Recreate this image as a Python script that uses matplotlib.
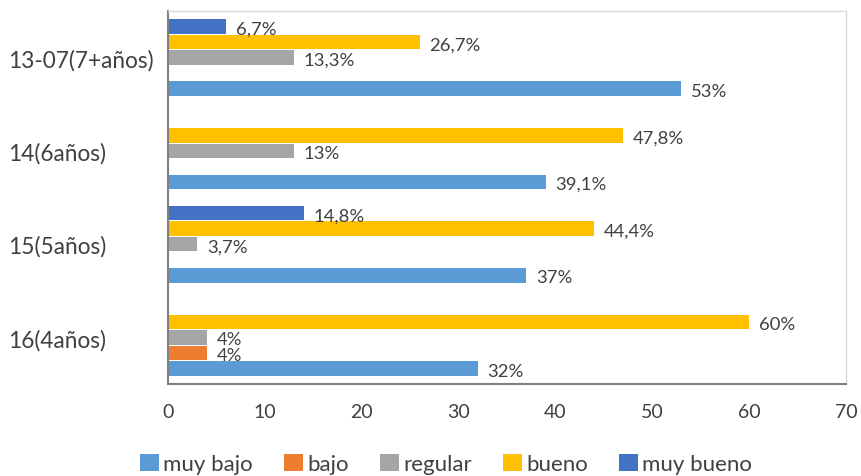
import matplotlib.pyplot as plt
import numpy as np

plt.rcParams['font.family'] = ['Lato', 'DejaVu Sans']

# categories from bottom to top
categorias = ["16(4años)", "15(5años)", "14(6años)", "13-07(7+años)"]
series = ["muy bajo", "bajo", "regular", "bueno", "muy bueno"]
colores = ["#5B9BD5", "#ED7D31", "#A5A5A5", "#FFC000", "#4472C4"]

# bar lengths as drawn in the picture
muy_bajo = [32, 37, 39, 53]
bajo = [4, 0, 0, 0]
regular = [4, 3, 13, 13]
bueno = [60, 44, 47, 26]
muy_bueno = [0, 14, 0, 6]

# data labels as printed next to the bars
et_muy_bajo = ["32%", "37%", "39,1%", "53%"]
et_bajo = ["4%", "", "", ""]
et_regular = ["4%", "3,7%", "13%", "13,3%"]
et_bueno = ["60%", "44,4%", "47,8%", "26,7%"]
et_muy_bueno = ["", "14,8%", "", "6,7%"]

valores = [muy_bajo, bajo, regular, bueno, muy_bueno]
etiquetas = [et_muy_bajo, et_bajo, et_regular, et_bueno, et_muy_bueno]

fig = plt.figure(figsize=(8.61, 4.77), dpi=100)
ax = fig.add_axes([168 / 861, 92 / 477, 678 / 861, 373 / 477])

y = np.arange(len(categorias))
h = 1 / 6
texto = "#404040"

for i, (nombre, vals, ets, col) in enumerate(zip(series, valores, etiquetas, colores)):
    pos = y + (i - 2) * h
    ax.barh(pos, vals, height=h * 0.94, color=col, label=nombre)
    for p, v, et in zip(pos, vals, ets):
        if not et:
            continue
        ax.annotate(et, (v, p), xytext=(7, -1.5), textcoords="offset points",
                    va="center", ha="left", fontsize=13.3, color=texto)

ax.set_xlim(0, 70)
ax.set_ylim(-0.5, 3.5)
ax.set_xticks(range(0, 71, 10))
ax.set_yticks(y)
ax.set_yticklabels(categorias, ha="left")
ax.tick_params(length=0, labelcolor=texto)
ax.tick_params(axis="x", pad=14, labelsize=14)
# pad in points: labels start ~8px from the left edge of the figure
ax.tick_params(axis="y", pad=(168 - 8) * 0.72, labelsize=16.3)

for lado in ["top", "right"]:
    ax.spines[lado].set_color("#D9D9D9")
    ax.spines[lado].set_linewidth(1)
for lado in ["left", "bottom"]:
    ax.spines[lado].set_color("#808080")
    ax.spines[lado].set_linewidth(1.5)

fig.legend(loc="center", bbox_to_anchor=(446 / 861, 12 / 477), ncol=5, frameon=False,
           fontsize=16, handlelength=0.85, handleheight=0.85, handletextpad=0.2,
           columnspacing=1.4, labelcolor=texto)

fig.savefig("out.png", dpi=100)
